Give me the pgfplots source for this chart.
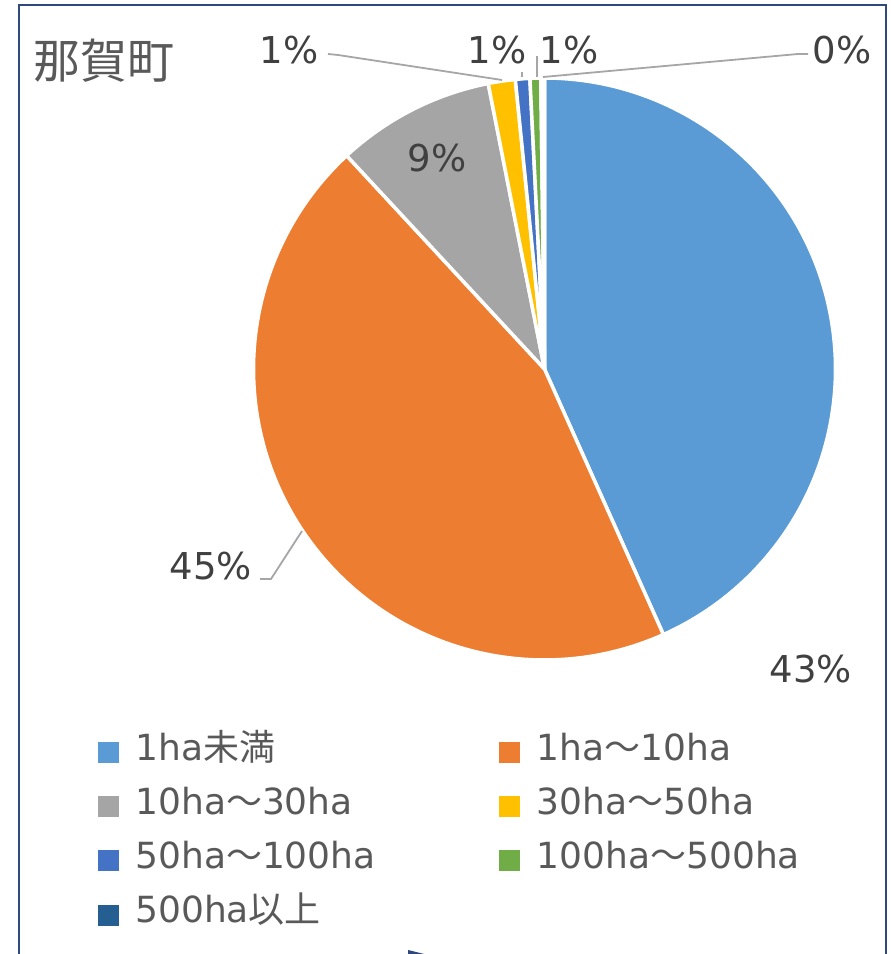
\documentclass[border=0pt]{standalone}
\usepackage{fontspec}
\setmainfont{DejaVu Sans}
\newfontfamily\jp{Noto Sans CJK JP}
\usepackage{pgfplots}
\pgfplotsset{compat=1.18}

\definecolor{cA}{HTML}{5B9BD5}
\definecolor{cB}{HTML}{ED7D31}
\definecolor{cC}{HTML}{A5A5A5}
\definecolor{cD}{HTML}{FFC000}
\definecolor{cE}{HTML}{4472C4}
\definecolor{cF}{HTML}{70AD47}
\definecolor{cG}{HTML}{255E91}
\definecolor{labtext}{HTML}{404040}
\definecolor{legtext}{HTML}{595959}
\definecolor{leader}{HTML}{A6A6A6}
\definecolor{frame}{HTML}{2E4A7D}

% one pie slice: #1 = share in percent, #2 = colour; slices run clockwise from 12 o'clock
\def\angA{90}
\newcommand\pieslice[2]{%
  \pgfmathsetmacro\angB{\angA-3.6*#1}%
  \edef\doslice{\noexpand\addplot[fill=#2, draw=white, line width=3.5pt, line join=round,
      domain=\angB:\angA, samples=150, variable=\noexpand\t, forget plot]
      ({544.5+291*cos(\noexpand\t)}, {585+291*sin(\noexpand\t)}) -- (axis cs:544.5,585) -- cycle;}%
  \doslice
  \global\let\angA\angB
}
\newcommand\legsq[1]{\addlegendimage{legend image code/.code={\fill[#1] (0pt,-12pt) rectangle (20pt,8pt);}}}

\begin{document}
\begin{tikzpicture}
\begin{axis}[
  width=891pt, height=954pt, scale only axis,
  xmin=0, xmax=891, ymin=0, ymax=954,
  axis lines=none, clip=false,
  legend cell align=left,
  legend style={at={(axis cs:98,222)}, anchor=north west, draw=none, fill=none,
    inner sep=0pt, outer sep=0pt,
    font=\fontsize{36}{43}\selectfont, text=legtext,
    nodes={inner sep=0pt, text height=28pt, text depth=8pt, text width=347pt, align=left},
    row sep=18.3pt, column sep=17pt},
  legend columns=2,
]
% data: share of farms by area (percent)
\pieslice{43.3}{cA}
\pieslice{44.8}{cB}
\pieslice{8.8}{cC}
\pieslice{1.5}{cD}
\pieslice{0.8}{cE}
\pieslice{0.6}{cF}
\pieslice{0.2}{cG}

\legsq{cA}\addlegendentry{1ha{\jp 未満}}
\legsq{cB}\addlegendentry{1ha{\jp ～}10ha}
\legsq{cC}\addlegendentry{10ha{\jp ～}30ha}
\legsq{cD}\addlegendentry{30ha{\jp ～}50ha}
\legsq{cE}\addlegendentry{50ha{\jp ～}100ha}
\legsq{cF}\addlegendentry{100ha{\jp ～}500ha}
\legsq{cG}\addlegendentry{500ha{\jp 以上}}

% frame
\draw[frame, line width=2pt] (axis cs:19,0) -- (axis cs:19,949) -- (axis cs:886,949) -- (axis cs:886,0);
\fill[frame] (axis cs:408,4) -- (axis cs:408,0) -- (axis cs:424,0) -- cycle;

% title
\node[anchor=base west, text=legtext, font=\jp\fontsize{47}{56}\selectfont, inner sep=0pt] at (axis cs:33,875) {那賀町};

% leader lines
\begin{scope}[leader, line width=1.8pt]
\draw (axis cs:328,900) -- (axis cs:338,899) -- (axis cs:502,874);
\draw (axis cs:522,882) -- (axis cs:522,877);
\draw (axis cs:537,898) -- (axis cs:537,877);
\draw (axis cs:808,900) -- (axis cs:798,900) -- (axis cs:543,877);
\draw (axis cs:260,375) -- (axis cs:271,375) -- (axis cs:302,423);
\end{scope}

% data labels
\begin{scope}[every node/.style={anchor=base, text=labtext, font=\fontsize{37}{44}\selectfont, inner sep=0pt}]
\node at (axis cs:289,890) {1\%};
\node at (axis cs:497,890) {1\%};
\node at (axis cs:569,890) {1\%};
\node at (axis cs:842,890) {0\%};
\node at (axis cs:437,782) {9\%};
\node at (axis cs:211,374) {45\%};
\node at (axis cs:811,271) {43\%};
\end{scope}
\end{axis}
\pgfresetboundingbox
\path (0,0) rectangle (891pt,954pt);
\end{tikzpicture}
\end{document}
